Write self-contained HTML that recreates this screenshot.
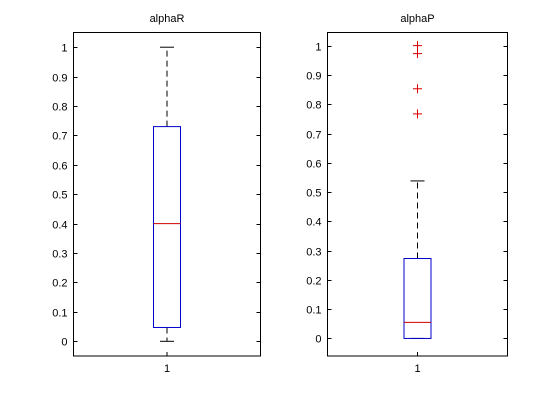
<!DOCTYPE html>
<html><head><meta charset="utf-8"><style>
html,body{margin:0;padding:0;background:#fff;}
svg{display:block;font-family:"Liberation Sans",Arial,sans-serif;}
</style></head><body>
<svg id="chart" width="560" height="420" viewBox="0 0 560 420"></svg>
<script>
const titles = ["alphaR", "alphaP"];
const q1Values = [0.047, 0.0];
const medianValues = [0.40, 0.055];
const q3Values = [0.73, 0.273];
const whiskerLow = [0.0, 0.0];
const whiskerHigh = [1.0, 0.538];
const outliersR = [];
const outliersP = [1.0, 0.973, 0.853, 0.767];
const yTicks = [0, 0.1, 0.2, 0.3, 0.4, 0.5, 0.6, 0.7, 0.8, 0.9, 1];
const yTickLabels = ["0","0.1","0.2","0.3","0.4","0.5","0.6","0.7","0.8","0.9","1"];
const xTickLabels = ["1"];

const NS = "http://www.w3.org/2000/svg";
const svg = document.getElementById("chart");
function mk(tag, attrs, parent){
  const e = document.createElementNS(NS, tag);
  for (const k in attrs) e.setAttribute(k, attrs[k]);
  (parent||svg).appendChild(e);
  return e;
}
const panels = [
  {x0:73.5, x1:260.5, y0:32.5, y1:356, ymin:-0.05, ymax:1.05, outliers:outliersR, name:"alphaR"},
  {x0:327.5, x1:507.5, y0:32.5, y1:356, ymin:-0.06, ymax:1.045, outliers:outliersP, name:"alphaP"}
];
panels.forEach((p, i) => {
  const g = mk("g", {});
  
  
  const ys = v => p.y1 - (v - p.ymin) / (p.ymax - p.ymin) * (p.y1 - p.y0);
  const cx = (p.x0 + p.x1) / 2;
  const frame = mk("rect", {x:p.x0, y:p.y0, width:p.x1-p.x0, height:p.y1-p.y0, fill:"#fff", stroke:"#000", "stroke-width":1}, g);
  
  
  const t = mk("text", {x:cx, y:22, "text-anchor":"middle", "font-size":"11", fill:"#000"}, g);
  t.textContent = titles[i];
  
  
  yTicks.forEach((v, k) => {
    const y = Math.round(ys(v)) + 0.5;
    mk("line", {x1:p.x0, x2:p.x0+4, y1:y, y2:y, stroke:"#000"}, g);
    mk("line", {x1:p.x1-4, x2:p.x1, y1:y, y2:y, stroke:"#000"}, g);
    const l = mk("text", {x:p.x0-6, y:y+4, "text-anchor":"end", "font-size":"11", fill:"#000"}, g);
    l.textContent = yTickLabels[k];
    
    
  });
  mk("line", {x1:cx, x2:cx, y1:p.y1, y2:p.y1-4, stroke:"#000"}, g);
  const xl = mk("text", {x:cx, y:372, "text-anchor":"middle", "font-size":"11", fill:"#000"}, g);
  xl.textContent = xTickLabels[0];
  
  
  const bw = 27, cw = 14;
  // whiskers
  const wu = mk("line", {x1:cx, x2:cx, y1:ys(q3Values[i]), y2:ys(whiskerHigh[i]), stroke:"#000", "stroke-dasharray":"6,4"}, g);
  
  
  const wl = mk("line", {x1:cx, x2:cx, y1:ys(q1Values[i]), y2:ys(whiskerLow[i]), stroke:"#000", "stroke-dasharray":"6,4"}, g);
  
  
  [whiskerHigh[i], whiskerLow[i]].forEach(v => {
    const c = mk("line", {x1:cx-cw/2, x2:cx+cw/2, y1:ys(v), y2:ys(v), stroke:"#000"}, g);
    
    
  });
  const box = mk("rect", {x:cx-bw/2, y:ys(q3Values[i]), width:bw, height:ys(q1Values[i])-ys(q3Values[i]), fill:"none", stroke:"#0000cc"}, g);
  
  
  const med = mk("line", {x1:cx-bw/2, x2:cx+bw/2, y1:ys(medianValues[i]), y2:ys(medianValues[i]), stroke:"#cc0000"}, g);
  
  
  p.outliers.forEach(v => {
    const y = ys(v);
    const o = mk("path", {d:`M${cx-4.5},${y}H${cx+4.5}M${cx},${y-4.5}V${y+4.5}`, stroke:"#dd0000", fill:"none"}, g);
    
    
  });
});
</script>
</body></html>
